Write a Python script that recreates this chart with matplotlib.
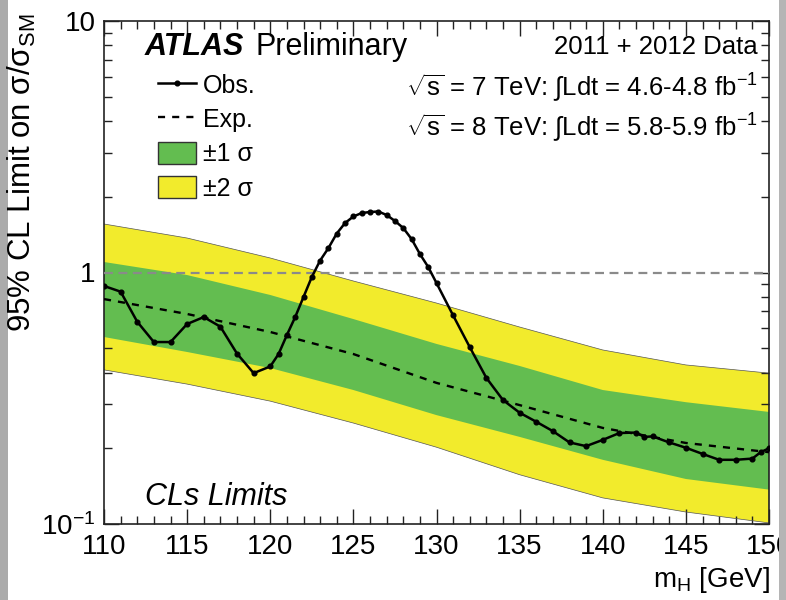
import matplotlib
matplotlib.use("Agg")
import matplotlib.pyplot as plt
from matplotlib.lines import Line2D
from matplotlib.patches import Patch, Rectangle
from matplotlib.ticker import FixedLocator, FixedFormatter, MultipleLocator, NullFormatter

# ---------------- data ----------------
mass_obs = [110, 111, 112, 113, 114, 115, 116, 117, 118, 119, 120, 120.5,
            121, 121.5, 122, 122.5, 123, 123.5, 124, 124.5, 125, 125.5,
            126, 126.5, 127, 127.5, 128, 128.5, 129, 129.5, 130,
            131, 132, 133, 134, 135, 136, 137, 138, 139, 140, 141, 142, 142.5,
            143, 144, 145, 146, 147, 148, 149, 149.5, 150]
limit_obs = [0.884, 0.839, 0.637, 0.529, 0.529, 0.624, 0.665, 0.609, 0.476, 0.398, 0.423, 0.474,
             0.564, 0.665, 0.799, 0.960, 1.116, 1.251, 1.429, 1.573, 1.670, 1.724,
             1.740, 1.748, 1.693, 1.603, 1.503, 1.359, 1.185, 1.052, 0.908,
             0.675, 0.505, 0.381, 0.311, 0.277, 0.255, 0.234, 0.211, 0.204, 0.216, 0.230, 0.231, 0.222,
             0.223, 0.211, 0.201, 0.190, 0.180, 0.180, 0.182, 0.193, 0.200]

mass_exp = [110, 115, 120, 125, 130, 135, 140, 145, 150]
limit_exp = [0.784, 0.684, 0.580, 0.474, 0.364, 0.297, 0.241, 0.210, 0.193]
plus2 = [1.559, 1.371, 1.142, 0.925, 0.756, 0.607, 0.492, 0.429, 0.398]
plus1 = [1.101, 0.977, 0.814, 0.653, 0.520, 0.425, 0.341, 0.305, 0.279]
minus1 = [0.554, 0.483, 0.417, 0.341, 0.271, 0.222, 0.180, 0.151, 0.137]
minus2 = [0.410, 0.360, 0.308, 0.252, 0.202, 0.157, 0.127, 0.1116, 0.101]

x_ticks = [110, 115, 120, 125, 130, 135, 140, 145, 150]
x_ticklabels = ["110", "115", "120", "125", "130", "135", "140", "145", "150"]
y_ticks = [0.1, 1, 10]
y_ticklabels = [r"$10^{-1}$", "1", "10"]

# ---------------- style ----------------
plt.rcParams['font.family'] = ['Liberation Sans', 'DejaVu Sans']
plt.rcParams['mathtext.fontset'] = 'custom'
plt.rcParams['mathtext.rm'] = 'Liberation Sans'
plt.rcParams['mathtext.it'] = 'Liberation Sans:italic'
plt.rcParams['mathtext.bf'] = 'Liberation Sans:bold'

YELLOW = "#f2eb2c"
GREEN = "#63bd50"

W, H = 786, 600
fig = plt.figure(figsize=(7.86, 6.0), dpi=100)
fig.patch.set_facecolor("white")

def fx(px):
    return px / W

def fy(py):
    return 1 - py / H

# gray side strips of the screenshot
fig.patches.append(Rectangle((0, 0), fx(8), 1, transform=fig.transFigure,
                             facecolor="#ababab", edgecolor="none", zorder=0))
fig.patches.append(Rectangle((fx(779), 0), fx(7), 1, transform=fig.transFigure,
                             facecolor="#b5b5b5", edgecolor="none", zorder=0))

ax = fig.add_axes([fx(104), fy(524), fx(769) - fx(104), fy(21) - fy(524)])
ax.set_yscale("log")
ax.set_xlim(110, 150)
ax.set_ylim(0.1, 10)

ax.fill_between(mass_exp, minus2, plus2, facecolor=YELLOW, edgecolor="none", zorder=1)
ax.fill_between(mass_exp, minus1, plus1, facecolor=GREEN, edgecolor="none", zorder=2)
ax.plot(mass_exp, plus2, color="#555555", lw=0.5, zorder=2)
ax.plot(mass_exp, minus2, color="#555555", lw=0.5, zorder=2)
ax.axhline(1.0, color="#8a8a8a", lw=1.6, ls=(0, (4, 2.5)), zorder=3)
ax.plot(mass_exp, limit_exp, color="black", lw=1.7, ls=(0, (3, 3)), zorder=4)
ax.plot(mass_obs, limit_obs, color="black", lw=1.8, marker="o", ms=3.4, zorder=5)

# ticks
ax.xaxis.set_major_locator(FixedLocator(x_ticks))
ax.xaxis.set_major_formatter(FixedFormatter(x_ticklabels))
ax.xaxis.set_minor_locator(MultipleLocator(1))
ax.yaxis.set_major_locator(FixedLocator(y_ticks))
ax.yaxis.set_major_formatter(FixedFormatter(y_ticklabels))
ax.yaxis.set_minor_locator(FixedLocator([m * d for d in (0.1, 1) for m in range(2, 10)]))
ax.yaxis.set_minor_formatter(NullFormatter())
ax.tick_params(which="both", direction="in", top=True, right=True, width=1.0, color="#222222")
ax.tick_params(which="major", length=11, labelsize=20)
ax.tick_params(which="minor", length=5.5)
ax.tick_params(axis="x", which="major", pad=7)
ax.tick_params(axis="y", which="major", pad=6)
for s in ax.spines.values():
    s.set_linewidth(1.2)
    s.set_color("#222222")

# axis titles
fig.text(fx(770), fy(580), r"m$_{\rm H}$ [GeV]", ha="right", va="center", fontsize=20)
fig.text(fx(22), fy(14), r"95% CL Limit on σ/σ$_{\rm SM}$", rotation=90,
         ha="center", va="top", fontsize=22.5)

# annotations
fig.text(fx(145), fy(47), "ATLAS", fontsize=22, fontweight="bold", fontstyle="italic",
         ha="left", va="center")
fig.text(fx(255), fy(47), "Preliminary", fontsize=22, ha="left", va="center")
fig.text(fx(758), fy(47), "2011 + 2012 Data", fontsize=18.5, ha="right", va="center")
fig.text(fx(758), fy(88), r"$\sqrt{\rm s}$ = 7 TeV: $\int$Ldt = 4.6-4.8 fb$^{-1}$",
         fontsize=18.5, ha="right", va="center")
fig.text(fx(758), fy(128), r"$\sqrt{\rm s}$ = 8 TeV: $\int$Ldt = 5.8-5.9 fb$^{-1}$",
         fontsize=18.5, ha="right", va="center")
fig.text(fx(145), fy(497), "CLs Limits", fontsize=22, fontstyle="italic",
         ha="left", va="center")

# legend
handles = [
    Line2D([], [], color="black", lw=1.8, marker="o", ms=3.4),
    Line2D([], [], color="black", lw=1.7, ls=(0, (3, 3))),
    Patch(facecolor=GREEN, edgecolor="#333333", lw=1.0),
    Patch(facecolor=YELLOW, edgecolor="#333333", lw=1.0),
]
labels = ["Obs.", "Exp.", "±1 σ", "±2 σ"]
fig.legend(handles, labels, loc="upper left", bbox_to_anchor=(fx(158), fy(73)),
           bbox_transform=fig.transFigure, frameon=False, fontsize=18,
           borderpad=0, borderaxespad=0, handlelength=1.5, handleheight=1.0,
           handletextpad=0.3, labelspacing=0.38, numpoints=1)

fig.savefig("out.png", dpi=100, facecolor="white")
